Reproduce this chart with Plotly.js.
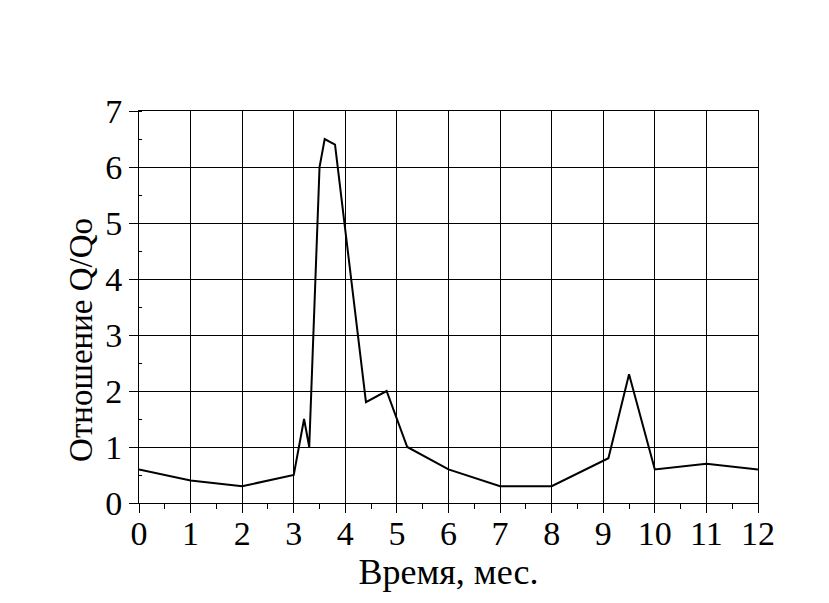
<!DOCTYPE html>
<html>
<head>
<meta charset="utf-8">
<script src="https://cdn.plot.ly/plotly-3.0.1.min.js"></script>
<style>html,body{margin:0;padding:0;background:#fff}#chart{width:829px;height:603px}</style>
</head>
<body>
<div id="chart"></div>
<script>
const months = [0, 1, 2, 3, 3.2, 3.3, 3.5, 3.6, 3.8, 4.4, 4.8, 5.2, 6, 7, 8, 9.1, 9.5, 10, 11, 12];
const ratio  = [0.6, 0.4, 0.3, 0.5, 1.5, 1.0, 6.0, 6.5, 6.4, 1.8, 2.0, 1.0, 0.6, 0.3, 0.3, 0.8, 2.3, 0.6, 0.7, 0.6];
const xTitle = 'Время, мес.';
const yTitle = 'Отношение Q/Qo';

const font = 'Liberation Serif';
const trace = {
  x: months, y: ratio, type: 'scatter', mode: 'lines',
  line: {color: '#000', width: 2}, hoverinfo: 'x+y'
};
const layout = {
  width: 829, height: 603,
  margin: {l: 139, r: 71, t: 111, b: 100, pad: 0},
  paper_bgcolor: '#fff', plot_bgcolor: '#fff',
  showlegend: false,
  font: {family: font, color: '#000', size: 33},
  xaxis: {
    range: [0, 12], dtick: 1, tick0: 0,
    showgrid: true, gridcolor: '#000', gridwidth: 1,
    showline: true, linecolor: '#000', linewidth: 1, mirror: true,
    ticks: 'outside', ticklen: 9, tickcolor: '#000', tickwidth: 1,
    ticklabelstandoff: -9,
    minor: {dtick: 0.5, ticks: 'outside', ticklen: 5, tickcolor: '#000', showgrid: false},
    zeroline: false,
    tickfont: {family: font, size: 34, color: '#000'},
    title: {text: xTitle, font: {family: font, size: 36, color: '#000'}, standoff: 2}
  },
  yaxis: {
    range: [0, 7], dtick: 1, tick0: 0,
    showgrid: true, gridcolor: '#000', gridwidth: 1,
    showline: true, linecolor: '#000', linewidth: 1, mirror: true,
    ticks: 'outside', ticklen: 9, tickcolor: '#000', tickwidth: 1,
    minor: {dtick: 0.5, ticks: 'inside', ticklen: 3, tickcolor: '#000', showgrid: false},
    zeroline: false,
    tickfont: {family: font, size: 34, color: '#000'}
  },
  annotations: [{
    text: yTitle, textangle: -90, xref: 'paper', yref: 'paper',
    x: 0, y: 0.416, xanchor: 'center', yanchor: 'middle', xshift: -58,
    showarrow: false, font: {family: font, size: 33, color: '#000'}
  }]
};
Plotly.newPlot('chart', [trace], layout, {displayModeBar: false, staticPlot: true});
</script>
</body>
</html>
